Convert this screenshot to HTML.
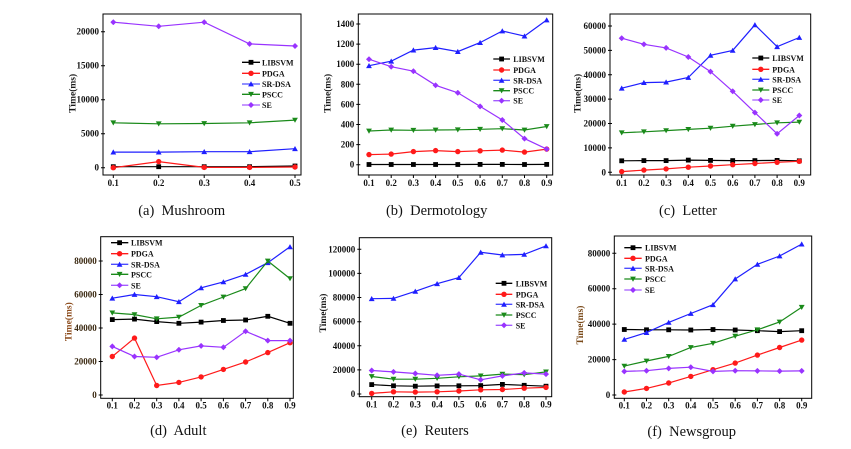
<!DOCTYPE html>
<html><head><meta charset="utf-8"><style>
html,body{margin:0;padding:0;background:#fff;}
svg{display:block;}
.tk{font-family:"Liberation Serif",serif;font-weight:bold;font-size:9px;fill:#111;}
.yt{text-anchor:end;}
.xt{text-anchor:middle;}
.lg{font-family:"Liberation Serif",serif;font-weight:bold;font-size:8px;fill:#111;}
.ttl{font-family:"Liberation Serif",serif;font-weight:bold;font-size:9.5px;fill:#1a1a1a;text-anchor:middle;}
.cap{font-family:"Liberation Serif",serif;font-size:14.5px;fill:#111;text-anchor:middle;}
.box{fill:none;stroke:#000;stroke-width:1;}
.tks{stroke:#000;stroke-width:1;}
.s0{fill:none;stroke:#000;stroke-width:1.2;marker-start:url(#m0);marker-mid:url(#m0);marker-end:url(#m0);}
.s1{fill:none;stroke:#ff1a1a;stroke-width:1.2;marker-start:url(#m1);marker-mid:url(#m1);marker-end:url(#m1);}
.s2{fill:none;stroke:#1f1fff;stroke-width:1.2;marker-start:url(#m2);marker-mid:url(#m2);marker-end:url(#m2);}
.s3{fill:none;stroke:#1a8a1a;stroke-width:1.2;marker-start:url(#m3);marker-mid:url(#m3);marker-end:url(#m3);}
.s4{fill:none;stroke:#9933ff;stroke-width:1.2;marker-start:url(#m4);marker-mid:url(#m4);marker-end:url(#m4);}
.l0{fill:none;stroke:#000;stroke-width:1.3;marker-mid:url(#m0);}
.l1{fill:none;stroke:#ff1a1a;stroke-width:1.3;marker-mid:url(#m1);}
.l2{fill:none;stroke:#4d4dff;stroke-width:1.3;marker-mid:url(#m2);}
.l3{fill:none;stroke:#1a8a1a;stroke-width:1.3;marker-mid:url(#m3);}
.l4{fill:none;stroke:#a35cff;stroke-width:1.3;marker-mid:url(#m4);}
</style></head><body>
<svg width="851" height="449" viewBox="0 0 851 449" xmlns="http://www.w3.org/2000/svg">
<defs>
<marker id="m0" markerWidth="6" markerHeight="6" refX="3" refY="3" markerUnits="userSpaceOnUse"><rect x="0.6" y="0.6" width="4.8" height="4.8" fill="#000"/></marker>
<marker id="m1" markerWidth="6" markerHeight="6" refX="3" refY="3" markerUnits="userSpaceOnUse"><circle cx="3" cy="3" r="2.7" fill="#ff1a1a"/></marker>
<marker id="m2" markerWidth="6" markerHeight="6" refX="3" refY="3" markerUnits="userSpaceOnUse"><path d="M3,0.3 L5.9,5.4 L0.1,5.4Z" fill="#1f1fff"/></marker>
<marker id="m3" markerWidth="6" markerHeight="6" refX="3" refY="3" markerUnits="userSpaceOnUse"><path d="M0.1,0.6 L5.9,0.6 L3,5.7Z" fill="#1a8a1a"/></marker>
<marker id="m4" markerWidth="6" markerHeight="6" refX="3" refY="3" markerUnits="userSpaceOnUse"><path d="M3,0 L6,3 L3,6 L0,3Z" fill="#9933ff"/></marker>
</defs>
<rect width="851" height="449" fill="#fff"/>

<!-- (a) Mushroom -->
<rect class="box" x="103" y="14" width="198" height="161"/>
<path class="tks" d="M101,167.7H105M101,133.7H105M101,99.7H105M101,65.7H105M101,31.7H105M113.3,175V178M158.7,175V178M204.2,175V178M249.6,175V178M295,175V178"/>
<text class="tk yt" x="99" y="170.7">0</text>
<text class="tk yt" x="99" y="136.7">5000</text>
<text class="tk yt" x="99" y="102.7">10000</text>
<text class="tk yt" x="99" y="68.7">15000</text>
<text class="tk yt" x="99" y="34.7">20000</text>
<text class="tk xt" x="113.3" y="186">0.1</text>
<text class="tk xt" x="158.7" y="186">0.2</text>
<text class="tk xt" x="204.2" y="186">0.3</text>
<text class="tk xt" x="249.6" y="186">0.4</text>
<text class="tk xt" x="295" y="186">0.5</text>
<text class="ttl" transform="translate(72.3,93.3) rotate(-90)" dy="3">Time(ms)</text>
<polyline class="s0" points="113.3,166.7 158.7,166.7 204.2,166.7 249.6,166.7 295,166"/>
<polyline class="s1" points="113.3,167.7 158.7,161.6 204.2,167.4 249.6,167.4 295,167"/>
<polyline class="s2" points="113.3,152.1 158.7,152.1 204.2,151.7 249.6,151.7 295,148.7"/>
<polyline class="s3" points="113.3,122.8 158.7,123.8 204.2,123.5 249.6,122.8 295,120.1"/>
<polyline class="s4" points="113.3,22.2 158.7,26.3 204.2,22.2 249.6,43.9 295,46"/>
<polyline class="l0" points="242,62.3 251,62.3 260,62.3"/><text class="lg" x="262" y="65.3">LIBSVM</text>
<polyline class="l1" points="242,73.3 251,73.3 260,73.3"/><text class="lg" x="262" y="76.3">PDGA</text>
<polyline class="l2" points="242,84 251,84 260,84"/><text class="lg" x="262" y="87">SR-DSA</text>
<polyline class="l3" points="242,94.3 251,94.3 260,94.3"/><text class="lg" x="262" y="97.3">PSCC</text>
<polyline class="l4" points="242,105 251,105 260,105"/><text class="lg" x="262" y="108">SE</text>
<text class="cap" x="181.7" y="215">(a)&#160; Mushroom</text>

<!-- (b) Dermotology -->
<rect class="box" x="358.3" y="14" width="194.4" height="161"/>
<path class="tks" d="M356.3,164.7H360.3M356.3,144.6H360.3M356.3,124.5H360.3M356.3,104.4H360.3M356.3,84.3H360.3M356.3,64.2H360.3M356.3,44.1H360.3M356.3,24H360.3M369,175V178M391.2,175V178M413.4,175V178M435.6,175V178M457.8,175V178M480.1,175V178M502.3,175V178M524.5,175V178M546.7,175V178"/>
<text class="tk yt" x="354.3" y="167.7">0</text>
<text class="tk yt" x="354.3" y="147.6">200</text>
<text class="tk yt" x="354.3" y="127.5">400</text>
<text class="tk yt" x="354.3" y="107.4">600</text>
<text class="tk yt" x="354.3" y="87.3">800</text>
<text class="tk yt" x="354.3" y="67.2">1000</text>
<text class="tk yt" x="354.3" y="47.1">1200</text>
<text class="tk yt" x="354.3" y="27">1400</text>
<text class="tk xt" x="369" y="186">0.1</text>
<text class="tk xt" x="391.2" y="186">0.2</text>
<text class="tk xt" x="413.4" y="186">0.3</text>
<text class="tk xt" x="435.6" y="186">0.4</text>
<text class="tk xt" x="457.8" y="186">0.5</text>
<text class="tk xt" x="480.1" y="186">0.6</text>
<text class="tk xt" x="502.3" y="186">0.7</text>
<text class="tk xt" x="524.5" y="186">0.8</text>
<text class="tk xt" x="546.7" y="186">0.9</text>
<text class="ttl" transform="translate(327.3,93.3) rotate(-90)" dy="3">Time(ms)</text>
<polyline class="s0" points="369,164.5 391.2,164.5 413.4,164.5 435.6,164.5 457.8,164.5 480.1,164.4 502.3,164.4 524.5,164.5 546.7,164.4"/>
<polyline class="s1" points="369,154.6 391.2,154.1 413.4,151.6 435.6,150.6 457.8,151.6 480.1,150.8 502.3,150.1 524.5,152.1 546.7,149.1"/>
<polyline class="s2" points="369,65.7 391.2,61.2 413.4,50.1 435.6,47.6 457.8,51.6 480.1,42.6 502.3,31 524.5,36.1 546.7,20"/>
<polyline class="s3" points="369,131 391.2,130 413.4,130.3 435.6,130 457.8,129.8 480.1,129.3 502.3,128.7 524.5,130 546.7,126.5"/>
<polyline class="s4" points="369,59.2 391.2,66.7 413.4,71.2 435.6,85.3 457.8,92.8 480.1,106.4 502.3,120 524.5,138.6 546.7,149.1"/>
<polyline class="l0" points="493.3,59 501.6,59 510,59"/><text class="lg" x="513.3" y="62">LIBSVM</text>
<polyline class="l1" points="493.3,70 501.6,70 510,70"/><text class="lg" x="513.3" y="73">PDGA</text>
<polyline class="l2" points="493.3,80.3 501.6,80.3 510,80.3"/><text class="lg" x="513.3" y="83.3">SR-DSA</text>
<polyline class="l3" points="493.3,90.7 501.6,90.7 510,90.7"/><text class="lg" x="513.3" y="93.7">PSCC</text>
<polyline class="l4" points="493.3,100.7 501.6,100.7 510,100.7"/><text class="lg" x="513.3" y="103.7">SE</text>
<text class="cap" x="436.7" y="215">(b)&#160; Dermotology</text>

<!-- (c) Letter -->
<rect class="box" x="610" y="14" width="200.7" height="161"/>
<path class="tks" d="M608,172.3H612M608,147.9H612M608,123.5H612M608,99.1H612M608,74.8H612M608,50.4H612M608,26H612M621.7,175V178M643.9,175V178M666.1,175V178M688.3,175V178M710.5,175V178M732.7,175V178M754.9,175V178M777.1,175V178M799.3,175V178"/>
<text class="tk yt" x="606" y="175.3">0</text>
<text class="tk yt" x="606" y="150.9">10000</text>
<text class="tk yt" x="606" y="126.5">20000</text>
<text class="tk yt" x="606" y="102.1">30000</text>
<text class="tk yt" x="606" y="77.8">40000</text>
<text class="tk yt" x="606" y="53.4">50000</text>
<text class="tk yt" x="606" y="29">60000</text>
<text class="tk xt" x="621.7" y="186">0.1</text>
<text class="tk xt" x="643.9" y="186">0.2</text>
<text class="tk xt" x="666.1" y="186">0.3</text>
<text class="tk xt" x="688.3" y="186">0.4</text>
<text class="tk xt" x="710.5" y="186">0.5</text>
<text class="tk xt" x="732.7" y="186">0.6</text>
<text class="tk xt" x="754.9" y="186">0.7</text>
<text class="tk xt" x="777.1" y="186">0.8</text>
<text class="tk xt" x="799.3" y="186">0.9</text>
<text class="ttl" transform="translate(577.3,93.3) rotate(-90)" dy="3">Time(ms)</text>
<polyline class="s0" points="621.7,160.8 643.9,160.6 666.1,160.6 688.3,160.1 710.5,160.4 732.7,160.6 754.9,160.6 777.1,160.4 799.3,160.8"/>
<polyline class="s1" points="621.7,171.6 643.9,170.1 666.1,168.9 688.3,167.2 710.5,166 732.7,164.7 754.9,163.5 777.1,162.3 799.3,161.3"/>
<polyline class="s2" points="621.7,88.2 643.9,82.6 666.1,82.1 688.3,77.5 710.5,55.3 732.7,50.4 754.9,24.8 777.1,46.7 799.3,37.5"/>
<polyline class="s3" points="621.7,132.8 643.9,131.8 666.1,130.6 688.3,129.4 710.5,128.2 732.7,126.2 754.9,124.5 777.1,122.8 799.3,122.1"/>
<polyline class="s4" points="621.7,38.2 643.9,44.3 666.1,47.9 688.3,57 710.5,71.6 732.7,91.3 754.9,112.6 777.1,133.8 799.3,115.5"/>
<polyline class="l0" points="752.3,58 760.8,58 769.3,58"/><text class="lg" x="772.3" y="61">LIBSVM</text>
<polyline class="l1" points="752.3,69.3 760.8,69.3 769.3,69.3"/><text class="lg" x="772.3" y="72.3">PDGA</text>
<polyline class="l2" points="752.3,79.3 760.8,79.3 769.3,79.3"/><text class="lg" x="772.3" y="82.3">SR-DSA</text>
<polyline class="l3" points="752.3,90 760.8,90 769.3,90"/><text class="lg" x="772.3" y="93">PSCC</text>
<polyline class="l4" points="752.3,100 760.8,100 769.3,100"/><text class="lg" x="772.3" y="103">SE</text>
<text class="cap" x="688" y="215">(c)&#160; Letter</text>

<!-- (d) Adult -->
<rect class="box" x="100.7" y="236.7" width="192.6" height="161.6"/>
<path class="tks" d="M98.7,395H102.7M98.7,361.5H102.7M98.7,328H102.7M98.7,294.5H102.7M98.7,261H102.7M112.3,398.3V401.3M134.5,398.3V401.3M156.7,398.3V401.3M178.9,398.3V401.3M201.1,398.3V401.3M223.4,398.3V401.3M245.6,398.3V401.3M267.8,398.3V401.3M290,398.3V401.3"/>
<text class="tk yt" x="96.7" y="398" style="fill:#3a2810">0</text>
<text class="tk yt" x="96.7" y="364.5" style="fill:#3a2810">20000</text>
<text class="tk yt" x="96.7" y="331" style="fill:#3a2810">40000</text>
<text class="tk yt" x="96.7" y="297.5" style="fill:#3a2810">60000</text>
<text class="tk yt" x="96.7" y="264" style="fill:#3a2810">80000</text>
<text class="tk xt" x="112.3" y="408.5">0.1</text>
<text class="tk xt" x="134.5" y="408.5">0.2</text>
<text class="tk xt" x="156.7" y="408.5">0.3</text>
<text class="tk xt" x="178.9" y="408.5">0.4</text>
<text class="tk xt" x="201.1" y="408.5">0.5</text>
<text class="tk xt" x="223.4" y="408.5">0.6</text>
<text class="tk xt" x="245.6" y="408.5">0.7</text>
<text class="tk xt" x="267.8" y="408.5">0.8</text>
<text class="tk xt" x="290" y="408.5">0.9</text>
<text class="ttl" transform="translate(68.3,321.7) rotate(-90)" dy="3" style="fill:#8b4a1a">Time(ms)</text>
<polyline class="s0" points="112.3,319.6 134.5,319.1 156.7,321.6 178.9,323.3 201.1,322.1 223.4,320.5 245.6,320 267.8,316.3 290,323.3"/>
<polyline class="s1" points="112.3,356.5 134.5,338.1 156.7,385.5 178.9,382.4 201.1,376.9 223.4,369.4 245.6,362 267.8,352.6 290,342.7"/>
<polyline class="s2" points="112.3,298.2 134.5,294.5 156.7,296.7 178.9,301.7 201.1,287.8 223.4,281.9 245.6,274.4 267.8,262.7 290,246.8"/>
<polyline class="s3" points="112.3,312.9 134.5,314.6 156.7,318.8 178.9,317.1 201.1,305.4 223.4,297 245.6,288.6 267.8,261 290,278.6"/>
<polyline class="s4" points="112.3,346.4 134.5,356.5 156.7,357.3 178.9,349.8 201.1,345.9 223.4,347.3 245.6,331.3 267.8,340.6 290,340.6"/>
<polyline class="l0" points="111,242.7 119.6,242.7 128.3,242.7"/><text class="lg" x="131" y="245.7">LIBSVM</text>
<polyline class="l1" points="111,253.7 119.6,253.7 128.3,253.7"/><text class="lg" x="131" y="256.7">PDGA</text>
<polyline class="l2" points="111,264.3 119.6,264.3 128.3,264.3"/><text class="lg" x="131" y="267.3">SR-DSA</text>
<polyline class="l3" points="111,274.3 119.6,274.3 128.3,274.3"/><text class="lg" x="131" y="277.3">PSCC</text>
<polyline class="l4" points="111,285.3 119.6,285.3 128.3,285.3"/><text class="lg" x="131" y="288.3">SE</text>
<text class="cap" x="178.3" y="435">(d)&#160; Adult</text>

<!-- (e) Reuters -->
<rect class="box" x="359.3" y="237.7" width="192.4" height="159"/>
<path class="tks" d="M357.3,394H361.3M357.3,369.9H361.3M357.3,345.8H361.3M357.3,321.7H361.3M357.3,297.5H361.3M357.3,273.4H361.3M357.3,249.3H361.3M371.7,396.7V399.7M393.5,396.7V399.7M415.3,396.7V399.7M437.1,396.7V399.7M458.9,396.7V399.7M480.7,396.7V399.7M502.4,396.7V399.7M524.2,396.7V399.7M546,396.7V399.7"/>
<text class="tk yt" x="355.3" y="397">0</text>
<text class="tk yt" x="355.3" y="372.9">20000</text>
<text class="tk yt" x="355.3" y="348.8">40000</text>
<text class="tk yt" x="355.3" y="324.7">60000</text>
<text class="tk yt" x="355.3" y="300.5">80000</text>
<text class="tk yt" x="355.3" y="276.4">100000</text>
<text class="tk yt" x="355.3" y="252.3">120000</text>
<text class="tk xt" x="371.7" y="407.5">0.1</text>
<text class="tk xt" x="393.5" y="407.5">0.2</text>
<text class="tk xt" x="415.3" y="407.5">0.3</text>
<text class="tk xt" x="437.1" y="407.5">0.4</text>
<text class="tk xt" x="458.9" y="407.5">0.5</text>
<text class="tk xt" x="480.7" y="407.5">0.6</text>
<text class="tk xt" x="502.4" y="407.5">0.7</text>
<text class="tk xt" x="524.2" y="407.5">0.8</text>
<text class="tk xt" x="546" y="407.5">0.9</text>
<text class="ttl" transform="translate(323,313) rotate(-90)" dy="3">Time(ms)</text>
<polyline class="s0" points="371.7,384.6 393.5,385.8 415.3,386.2 437.1,385.9 458.9,385.8 480.7,385.6 502.4,384.4 524.2,385.3 546,386.2"/>
<polyline class="s1" points="371.7,393.4 393.5,391.8 415.3,392.1 437.1,391.8 458.9,391 480.7,389.8 502.4,389.5 524.2,388.2 546,387.4"/>
<polyline class="s2" points="371.7,298.7 393.5,298.4 415.3,291.3 437.1,283.7 458.9,277.6 480.7,252.3 502.4,255 524.2,254.4 546,245.9"/>
<polyline class="s3" points="371.7,376.5 393.5,379.2 415.3,379.2 437.1,378.3 458.9,376.8 480.7,375.9 502.4,374.1 524.2,374.7 546,371.9"/>
<polyline class="s4" points="371.7,370.5 393.5,371.9 415.3,373.5 437.1,375.3 458.9,374.1 480.7,379.8 502.4,375.9 524.2,372.9 546,374.1"/>
<polyline class="l0" points="495.7,283.3 504,283.3 512.3,283.3"/><text class="lg" x="515.7" y="286.3">LIBSVM</text>
<polyline class="l1" points="495.7,294.3 504,294.3 512.3,294.3"/><text class="lg" x="515.7" y="297.3">PDGA</text>
<polyline class="l2" points="495.7,304.3 504,304.3 512.3,304.3"/><text class="lg" x="515.7" y="307.3">SR-DSA</text>
<polyline class="l3" points="495.7,315 504,315 512.3,315"/><text class="lg" x="515.7" y="318">PSCC</text>
<polyline class="l4" points="495.7,325.3 504,325.3 512.3,325.3"/><text class="lg" x="515.7" y="328.3">SE</text>
<text class="cap" x="435" y="435">(e)&#160; Reuters</text>

<!-- (f) Newsgroup -->
<rect class="box" x="614.3" y="236" width="197.4" height="162.3"/>
<path class="tks" d="M612.3,395H616.3M612.3,359.6H616.3M612.3,324.1H616.3M612.3,288.7H616.3M612.3,253.3H616.3M624.3,398.3V401.3M646.5,398.3V401.3M668.7,398.3V401.3M690.8,398.3V401.3M713,398.3V401.3M735.2,398.3V401.3M757.4,398.3V401.3M779.6,398.3V401.3M801.7,398.3V401.3"/>
<text class="tk yt" x="610.3" y="398">0</text>
<text class="tk yt" x="610.3" y="362.6">20000</text>
<text class="tk yt" x="610.3" y="327.1">40000</text>
<text class="tk yt" x="610.3" y="291.7">60000</text>
<text class="tk yt" x="610.3" y="256.3">80000</text>
<text class="tk xt" x="624.3" y="408.5">0.1</text>
<text class="tk xt" x="646.5" y="408.5">0.2</text>
<text class="tk xt" x="668.7" y="408.5">0.3</text>
<text class="tk xt" x="690.8" y="408.5">0.4</text>
<text class="tk xt" x="713" y="408.5">0.5</text>
<text class="tk xt" x="735.2" y="408.5">0.6</text>
<text class="tk xt" x="757.4" y="408.5">0.7</text>
<text class="tk xt" x="779.6" y="408.5">0.8</text>
<text class="tk xt" x="801.7" y="408.5">0.9</text>
<text class="ttl" transform="translate(580,325) rotate(-90)" dy="3" style="fill:#7a4a1a">Time(ms)</text>
<polyline class="s0" points="624.3,329.5 646.5,329.8 668.7,329.8 690.8,330 713,329.5 735.2,330 757.4,330.7 779.6,331.6 801.7,330.7"/>
<polyline class="s1" points="624.3,392 646.5,388.4 668.7,383 690.8,376.4 713,369.7 735.2,363.1 757.4,355.1 779.6,347.5 801.7,340.1"/>
<polyline class="s2" points="624.3,339.4 646.5,332.6 668.7,322.4 690.8,313.5 713,304.7 735.2,279 757.4,264.3 779.6,256 801.7,244.1"/>
<polyline class="s3" points="624.3,366.1 646.5,361 668.7,356.4 690.8,347.5 713,343.3 735.2,336.2 757.4,329.8 779.6,322 801.7,307.3"/>
<polyline class="s4" points="624.3,371.4 646.5,370.7 668.7,368.4 690.8,367.2 713,371.4 735.2,370.7 757.4,370.9 779.6,371.1 801.7,370.9"/>
<polyline class="l0" points="624.3,247.7 633,247.7 641.7,247.7"/><text class="lg" x="645" y="250.7">LIBSVM</text>
<polyline class="l1" points="624.3,258.3 633,258.3 641.7,258.3"/><text class="lg" x="645" y="261.3">PDGA</text>
<polyline class="l2" points="624.3,268.3 633,268.3 641.7,268.3"/><text class="lg" x="645" y="271.3">SR-DSA</text>
<polyline class="l3" points="624.3,279 633,279 641.7,279"/><text class="lg" x="645" y="282">PSCC</text>
<polyline class="l4" points="624.3,290 633,290 641.7,290"/><text class="lg" x="645" y="293">SE</text>
<text class="cap" x="691.7" y="436">(f)&#160; Newsgroup</text>
</svg>
</body></html>
